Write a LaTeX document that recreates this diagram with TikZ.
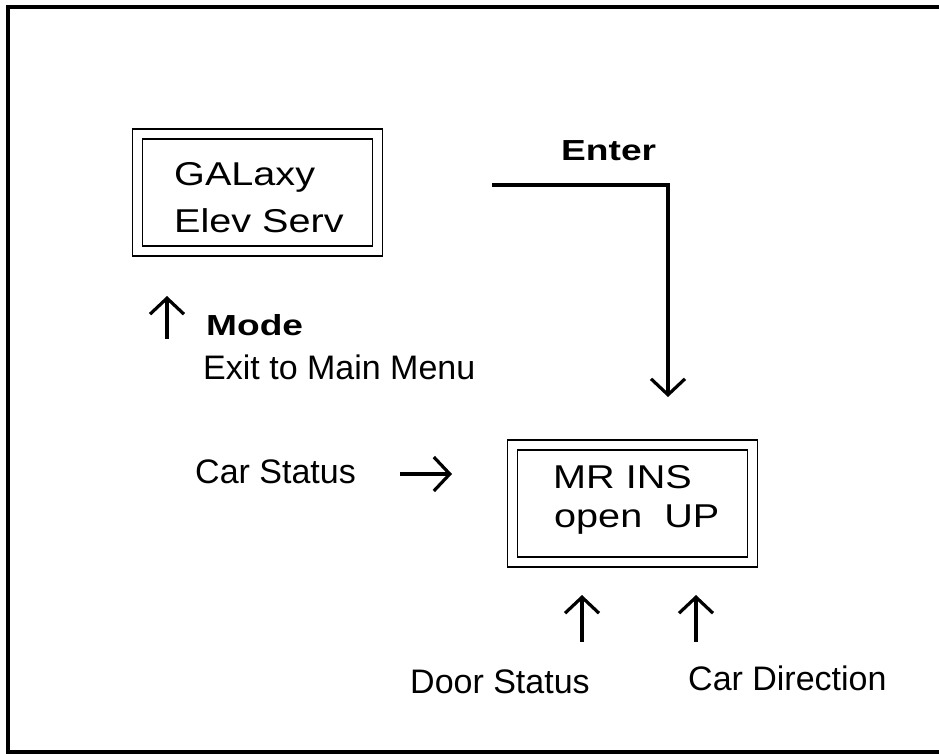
\documentclass[tikz,border=0pt]{standalone}
\usepackage{fontspec}
\setmainfont{Liberation Sans}
\newfontfamily\lcdfont[FakeStretch=1.2]{Liberation Sans}
\newfontfamily\keyfont[FakeStretch=1.28]{Liberation Sans Bold}
\usetikzlibrary{arrows.meta}
\begin{document}
\begin{tikzpicture}[x=1pt,y=-1pt,
  lcdbox/.style={draw, line width=1.6pt, double, double distance=8.5pt, minimum width=240pt, minimum height=117pt, inner sep=0pt},
  lcdtext/.style={anchor=base west, inner sep=0pt, font=\lcdfont\fontsize{33}{38}\selectfont},
  keytext/.style={anchor=base west, inner sep=0pt, font=\keyfont\fontsize{29}{34}\selectfont},
  plaintext/.style={anchor=base west, inner sep=0pt, font=\fontsize{34}{40}\selectfont},
  flow/.style={line width=4.6pt, -{Straight Barb[length=16pt,width=34pt,line width=3.2pt]}}
]
\useasboundingbox (0,0) rectangle (939,753);
\clip (0,0) rectangle (939,753);
% outer frame (right side lies outside the picture)
\draw[line width=4pt] (950,7) -- (8,7) -- (8,752) -- (950,752);

% display boxes
\node[lcdbox] (galaxy) at (257.5,192.5) {};
\node[lcdbox] (mrins) at (632.5,503.5) {};

% texts inside the boxes
\node[lcdtext] (galaxyA) at (174,185) {GALaxy};
\node[lcdtext] (galaxyB) at (174,232) {Elev Serv};
\node[lcdtext] (mrinsA) at (553,488) {MR INS};
\node[lcdtext] (mrinsB) at (554,527) {open~~UP};

% labels
\node[keytext] (enter) at (561,160) {Enter};
\node[keytext] (mode) at (206,335) {Mode};
\node[plaintext] (exit) at (203,379) {Exit to Main Menu};
\node[plaintext] (carstatus) at (195,483) {Car Status};
\node[plaintext] (doorstatus) at (410,693) {Door Status};
\node[plaintext] (cardir) at (688,690) {Car Direction};

% connector end points
\coordinate (enterS) at (492,185);
\coordinate (enterE) at (668,397);
\coordinate (modeS) at (167,339);
\coordinate (modeE) at (167,296);
\coordinate (carS) at (400,474);
\coordinate (carE) at (452,474);
\coordinate (doorS) at (582,642);
\coordinate (doorE) at (582,595);
\coordinate (dirS) at (696,642);
\coordinate (dirE) at (696,595);

% connectors
\draw[flow] (enterS) -| (enterE);
\draw[flow] (modeS) -- (modeE);
\draw[flow] (carS) -- (carE);
\draw[flow] (doorS) -- (doorE);
\draw[flow] (dirS) -- (dirE);
\end{tikzpicture}
\end{document}
